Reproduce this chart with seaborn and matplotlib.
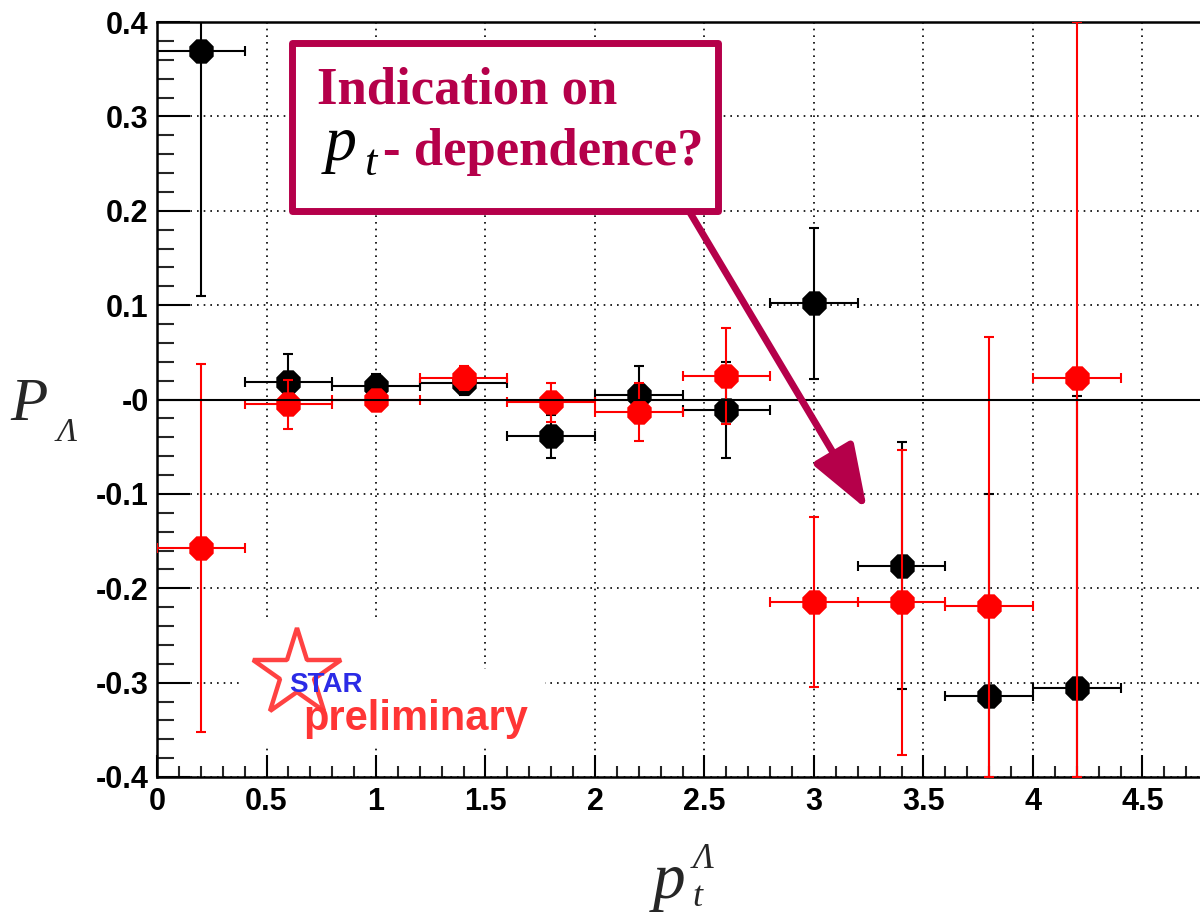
import numpy as np
import pandas as pd
import seaborn as sns
import matplotlib

matplotlib.use("Agg")

import matplotlib.pyplot as plt
from matplotlib.patches import Rectangle
from matplotlib.lines import Line2D
from matplotlib.ticker import FixedLocator, MultipleLocator

# lambda pt bins (centres) and their half widths
pt_bins = [0.2, 0.6, 1.0, 1.4, 1.8, 2.2, 2.6, 3.0, 3.4, 3.8, 4.2]
pt_halfwidth = [0.2, 0.2, 0.2, 0.2, 0.2, 0.2, 0.2, 0.2, 0.2, 0.2, 0.2]

# black set
black_pol = [0.369, 0.019, 0.014, 0.018, -0.039, 0.005, -0.011, 0.102, -0.176, -0.314, -0.306]
black_err = [0.259, 0.029, 0.013, 0.013, 0.023, 0.030, 0.051, 0.080, 0.131, 0.214, 0.310]

# red set
red_pol = [-0.157, -0.005, -0.001, 0.023, -0.003, -0.013, 0.025, -0.215, -0.215, -0.219, 0.023]
red_err = [0.195, 0.026, 0.010, 0.013, 0.021, 0.031, 0.051, 0.090, 0.162, 0.285, 0.500]

x_ticks = [0, 0.5, 1, 1.5, 2, 2.5, 3, 3.5, 4, 4.5]
x_tick_labels = ["0", "0.5", "1", "1.5", "2", "2.5", "3", "3.5", "4", "4.5"]
y_ticks = [-0.4, -0.3, -0.2, -0.1, 0.0, 0.1, 0.2, 0.3, 0.4]
y_tick_labels = ["-0.4", "-0.3", "-0.2", "-0.1", "-0", "0.1", "0.2", "0.3", "0.4"]

CRIMSON = "#b5004a"
W, H = 1200, 914


def px(x, y):
    # figure fraction from image pixel position (origin top-left)
    return x / W, 1 - y / H


sns.set_theme(style="ticks")
plt.rcParams["font.family"] = ["Liberation Sans", "DejaVu Sans"]

data = pd.DataFrame({
    "pt": pt_bins * 2,
    "dpt": pt_halfwidth * 2,
    "pol": black_pol + red_pol,
    "err": black_err + red_err,
    "set": ["black"] * len(pt_bins) + ["red"] * len(pt_bins),
})

fig = plt.figure(figsize=(W / 100, H / 100), dpi=100)
fig.patch.set_facecolor("white")
ax = fig.add_axes([157 / W, 137 / H, 4.9 * 219 / W, 755 / H])
ax.set_facecolor("white")

ylo, yhi = -0.4, 0.4
ax.set_xlim(0, 4.9)
ax.set_ylim(ylo, yhi)

z = 2
for name, colour in [("black", "black"), ("red", "#ff0000")]:
    sub = data[data["set"] == name]
    lo = np.clip(sub["pol"] - sub["err"], ylo, yhi)
    hi = np.clip(sub["pol"] + sub["err"], ylo, yhi)
    ax.errorbar(sub["pt"], sub["pol"], yerr=[sub["pol"] - lo, hi - sub["pol"]],
                xerr=sub["dpt"], fmt="none", ecolor=colour, elinewidth=1.5,
                capsize=3.5, capthick=1.5, zorder=z)
    sns.scatterplot(data=sub, x="pt", y="pol", ax=ax, color=colour, marker="8",
                    s=19 ** 2, linewidth=0, zorder=z + 1, legend=False)
    z += 2

ax.axhline(0, color="black", lw=1.5, zorder=7)

# axes styling, ROOT look
ax.set_axisbelow(True)
ax.grid(True, which="major", color="black", linestyle=(0, (1, 3)), linewidth=1.2)
ax.xaxis.set_major_locator(FixedLocator(x_ticks))
ax.yaxis.set_major_locator(FixedLocator(y_ticks))
ax.xaxis.set_minor_locator(MultipleLocator(0.1))
ax.yaxis.set_minor_locator(MultipleLocator(0.02))
ax.set_xticklabels(x_tick_labels, fontsize=22, fontweight="bold")
ax.set_yticklabels(y_tick_labels, fontsize=22, fontweight="bold")
ax.tick_params(axis="x", which="major", direction="in", length=16, width=1.5, pad=7, colors="black")
ax.tick_params(axis="x", which="minor", direction="in", length=8, width=1.5)
ax.tick_params(axis="y", which="major", direction="in", length=24, width=1.5, pad=6, colors="black")
ax.tick_params(axis="y", which="minor", direction="in", length=12, width=1.5)
for side in ["left", "bottom", "top", "right"]:
    ax.spines[side].set_color("black")
    ax.spines[side].set_linewidth(1.8)
ax.set_xlabel("")
ax.set_ylabel("")

# white patch behind the STAR logo
ax.add_patch(Rectangle((0.384, -0.369), 0.97, 0.134, facecolor="white", edgecolor="none", zorder=1))
ax.add_patch(Rectangle((1.35, -0.369), 0.42, 0.083, facecolor="white", edgecolor="none", zorder=1))

# annotation box and arrow
ax.add_patch(Rectangle((0.616, 0.1994), 1.946, 0.178, facecolor="white", edgecolor=CRIMSON,
                       lw=5, joinstyle="round", zorder=10, clip_on=False))
ax.annotate("", xy=(3.242, -0.1166), xytext=(2.425, 0.2015),
            arrowprops=dict(arrowstyle="-|>,head_length=2.8,head_width=1.0", lw=5,
                            color=CRIMSON, shrinkA=0, shrinkB=0, mutation_scale=14),
            zorder=9)

fig.text(*px(317, 104), "Indication on", fontsize=38, fontweight="bold",
         family="Liberation Serif", color=CRIMSON, va="baseline", zorder=12)
fig.text(*px(325, 160), "p", fontsize=46, style="italic", family="Liberation Serif",
         color="black", va="baseline", zorder=12)
fig.text(*px(364, 175), "t", fontsize=32, style="italic", family="Liberation Serif",
         color="black", va="baseline", zorder=12)
fig.text(*px(383, 165), "- dependence?", fontsize=38, fontweight="bold",
         family="Liberation Serif", color=CRIMSON, va="baseline", zorder=12)

# STAR preliminary logo
fig.add_artist(Line2D([297 / W], [1 - 674 / H], marker="*", ms=66, mfc="none",
                      mec="#ff2d2d", mew=3.2, alpha=0.9, transform=fig.transFigure))
fig.text(*px(289, 692), "STAR", fontsize=20, fontweight="bold", color="#2b2be6", va="baseline")
fig.text(*px(303, 730), "preliminary", fontsize=30, fontweight="bold", color="#ff3535", va="baseline")

# axis titles
fig.text(*px(10, 420), "P", fontsize=44, style="italic", family="Liberation Serif", va="baseline")
fig.text(*px(57, 441), "\u039b", fontsize=24, style="italic", family="Liberation Serif", va="baseline")
fig.text(*px(653, 898), "p", fontsize=47, style="italic", family="Liberation Serif", va="baseline")
fig.text(*px(692, 906), "t", fontsize=26, style="italic", family="Liberation Serif", va="baseline")
fig.text(*px(693, 868), "\u039b", fontsize=25, style="italic", family="Liberation Serif", va="baseline")

fig.savefig("out.png", dpi=100)
